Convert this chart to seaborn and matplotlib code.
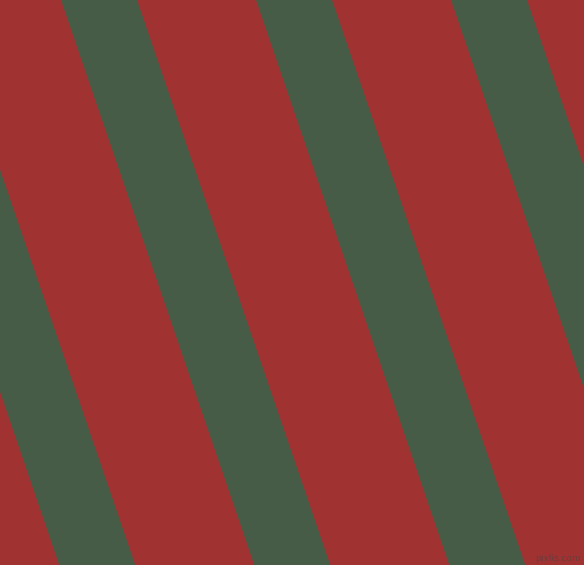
import matplotlib
matplotlib.use('Agg')
import matplotlib.pyplot as plt
import seaborn as sns

# stripe data: x where each green band's left edge meets the top, band width, slant
stripe_starts = [-134, 61, 256, 451, 646]
stripe_width = 76
slant = 0.342  # horizontal shift per pixel down
red = '#a03332'
green = '#465c46'

W, H = 584, 565

sns.set_style('white')
fig = plt.figure(figsize=(W / 100, H / 100), dpi=100)
ax = fig.add_axes([0, 0, 1, 1])
ax.set_facecolor(red)

for x0 in stripe_starts:
    xs = [x0, x0 + stripe_width, x0 + stripe_width + slant * H, x0 + slant * H]
    ys = [0, 0, H, H]
    ax.fill(xs, ys, color=green, lw=0)

ax.text(581, 563, 'pixlis.com', color='#444444', alpha=0.6, fontsize=6.5,
        ha='right', va='bottom')

ax.set_xlim(0, W)
ax.set_ylim(H, 0)
ax.axis('off')
fig.patch.set_facecolor(red)
fig.savefig('out.png', dpi=100, facecolor=red)
